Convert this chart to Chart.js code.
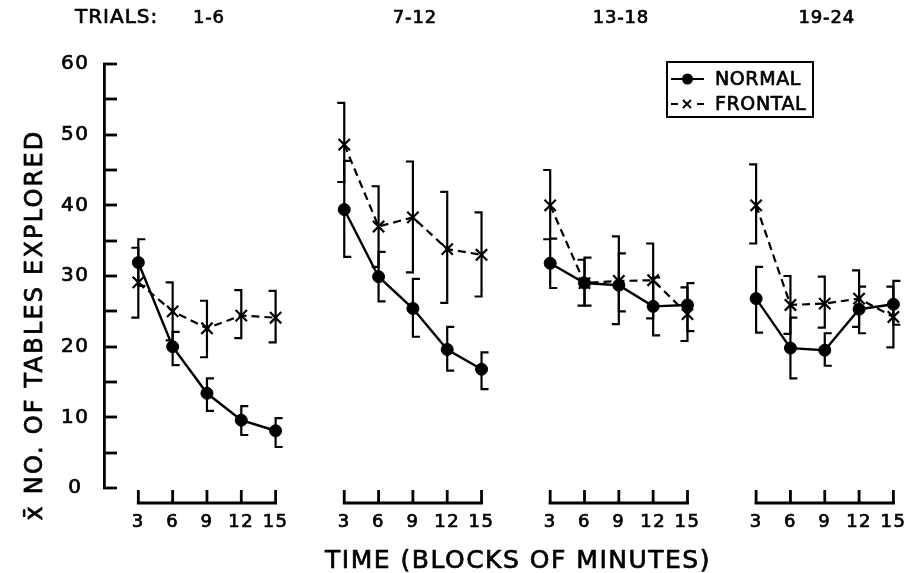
<!DOCTYPE html>
<html><head><meta charset="utf-8">
<script src="https://cdn.jsdelivr.net/npm/chart.js@4/dist/chart.umd.min.js"></script>
<style>html,body{margin:0;padding:0;background:#fff;}#wrap{width:921px;height:573px;position:relative;}</style>
</head><body><div id="wrap"><canvas id="c" width="921" height="573"></canvas></div>
<script>
// ---------- data ----------
const trialLabels = ['1-6', '7-12', '13-18', '19-24'];
const minutes = [3, 6, 9, 12, 15];
const yTickLabels = [0, 10, 20, 30, 40, 50, 60];

const normalMean  = [31.9, 20.0, 13.4,  9.6,  8.1,   39.4, 29.9, 25.4, 19.6, 16.8,   31.8, 29.0, 28.7, 25.7, 25.9,   26.8, 19.8, 19.5, 25.3, 26.0];
const normalLow   = [28.6, 17.4, 10.9,  7.5,  5.8,   32.7, 26.4, 21.4, 16.6, 14.0,   28.3, 25.8, 25.0, 21.6, 22.2,   22.0, 15.5, 17.3, 21.9, 23.1];
const normalHigh  = [35.2, 22.1, 15.5, 11.6,  9.9,   46.3, 33.4, 29.6, 22.8, 19.2,   35.3, 32.6, 33.2, 29.8, 29.0,   31.3, 24.1, 21.9, 28.5, 29.3];

const frontalMean = [29.1, 25.0, 22.6, 24.4, 24.1,   48.6, 37.0, 38.3, 33.8, 33.0,   40.0, 29.0, 29.3, 29.4, 24.6,   40.0, 25.9, 26.1, 26.8, 24.2];
const frontalLow  = [24.1, 20.9, 18.5, 21.2, 20.6,   43.3, 31.3, 30.5, 26.2, 27.1,   35.2, 25.8, 23.2, 24.0, 20.8,   34.6, 21.8, 22.7, 22.8, 19.9];
const frontalHigh = [34.0, 29.1, 26.5, 28.0, 27.9,   54.5, 42.7, 46.2, 41.9, 39.0,   45.0, 32.3, 35.6, 34.6, 28.4,   45.8, 30.0, 29.9, 30.8, 28.5];

const xTitle = 'TIME (BLOCKS OF MINUTES)';
const yTitle = 'x\u0304 NO. OF TABLES EXPLORED';

// ---------- layout constants ----------
const PANEL_SPAN = 18;   // x-units between panel starts
const FONT = '"DejaVu Sans", sans-serif';
const STROKE = 0.7;

function xVal(p, i) { return p * PANEL_SPAN + minutes[i]; }

function buildPoints(means) {
  const pts = [];
  trialLabels.forEach((t, p) => {
    minutes.forEach((m, i) => pts.push({ x: xVal(p, i), y: means[p * minutes.length + i] }));
    if (p < trialLabels.length - 1) pts.push({ x: p * PANEL_SPAN + 16.5, y: null });
  });
  return pts;
}

const tickPositions = [];
trialLabels.forEach((t, p) => minutes.forEach((m, i) => tickPositions.push(xVal(p, i))));

function spaced(ctx, px) { try { ctx.letterSpacing = px + 'px'; } catch (e) {} }
function text(ctx, s, x, y) {
  ctx.fillText(s, x, y);
  ctx.save();
  ctx.lineWidth = STROKE;
  ctx.lineJoin = 'round';
  ctx.strokeText(s, x, y);
  ctx.restore();
}

const decor = {
  id: 'decor',
  beforeDraw(chart) { spaced(chart.ctx, 1.5); },
  beforeDatasetsDraw(chart) {
    const { ctx, scales: { x, y } } = chart;
    ctx.save();
    ctx.strokeStyle = '#000';
    ctx.lineWidth = 2.2;
    ctx.lineCap = 'butt';
    const serif = 7;
    function bars(lo, hi, dir) {
      trialLabels.forEach((t, p) => minutes.forEach((m, i) => {
        const k = p * minutes.length + i;
        const px = x.getPixelForValue(xVal(p, i));
        const y1 = y.getPixelForValue(hi[k]);
        const y2 = y.getPixelForValue(lo[k]);
        ctx.beginPath();
        ctx.moveTo(px + dir * serif, y1);
        ctx.lineTo(px, y1);
        ctx.lineTo(px, y2);
        ctx.lineTo(px + dir * serif, y2);
        ctx.stroke();
      }));
    }
    bars(normalLow, normalHigh, 1);
    bars(frontalLow, frontalHigh, -1);
    ctx.restore();
  },
  afterDraw(chart) {
    const { ctx, chartArea, scales: { x, y } } = chart;
    ctx.save();
    ctx.strokeStyle = '#000';
    ctx.fillStyle = '#000';
    ctx.lineWidth = 2.8;
    ctx.lineCap = 'butt';
    // inward y tick marks every 5
    for (let v = 0; v <= 60; v += 5) {
      const py = Math.round(y.getPixelForValue(v));
      ctx.beginPath();
      ctx.moveTo(chartArea.left - 1, py);
      ctx.lineTo(chartArea.left + 13, py);
      ctx.stroke();
    }
    // x axis segments per panel
    const baseY = chartArea.bottom + 15;
    trialLabels.forEach((t, p) => {
      const a = x.getPixelForValue(xVal(p, 0));
      const b = x.getPixelForValue(xVal(p, minutes.length - 1));
      ctx.beginPath();
      ctx.moveTo(a - 1.4, baseY);
      ctx.lineTo(b + 1.4, baseY);
      ctx.stroke();
      minutes.forEach((m, i) => {
        const px = x.getPixelForValue(xVal(p, i));
        ctx.beginPath();
        ctx.moveTo(px, baseY + 1);
        ctx.lineTo(px, baseY - 13);
        ctx.stroke();
      });
    });
    // top labels
    ctx.textBaseline = 'middle';
    ctx.textAlign = 'left';
    ctx.font = '20px ' + FONT;
    spaced(ctx, 1);
    text(ctx, 'TRIALS:', 75, 18);
    ctx.textAlign = 'center';
    ctx.font = '18px ' + FONT;
    spaced(ctx, 0.8);
    trialLabels.forEach((t, p) => {
      const cx = x.getPixelForValue(p * PANEL_SPAN + 9);
      text(ctx, t, cx + 2, 18);
    });
    // x title
    ctx.font = '25px ' + FONT;
    spaced(ctx, 1.5);
    ctx.textAlign = 'center';
    text(ctx, xTitle, 518, 561);
    // y title
    ctx.save();
    ctx.translate(36, 325);
    ctx.rotate(-Math.PI / 2);
    ctx.font = '24px ' + FONT;
    spaced(ctx, 2.2);
    ctx.textAlign = 'center';
    ctx.textBaseline = 'middle';
    text(ctx, yTitle, 0, 0);
    ctx.restore();
    // legend box
    const lx = 667, ly = 62, lw = 146, lh = 55;
    ctx.lineWidth = 2;
    ctx.strokeRect(lx, ly, lw, lh);
    const r1 = 79, r2 = 104;
    ctx.beginPath(); ctx.moveTo(671, r1); ctx.lineTo(704, r1); ctx.stroke();
    ctx.beginPath(); ctx.arc(687.5, r1, 5.5, 0, Math.PI * 2); ctx.fill();
    ctx.beginPath(); ctx.moveTo(671, r2); ctx.lineTo(678, r2); ctx.moveTo(697, r2); ctx.lineTo(704, r2); ctx.stroke();
    ctx.beginPath();
    ctx.moveTo(683, r2 - 4); ctx.lineTo(691, r2 + 4);
    ctx.moveTo(691, r2 - 4); ctx.lineTo(683, r2 + 4);
    ctx.stroke();
    ctx.font = '19px ' + FONT;
    spaced(ctx, 0.6);
    ctx.textAlign = 'left';
    ctx.textBaseline = 'middle';
    text(ctx, 'NORMAL', 715, r1 + 1);
    text(ctx, 'FRONTAL', 715, r2 + 1);
    ctx.restore();
  }
};

new Chart(document.getElementById('c'), {
  type: 'line',
  data: {
    datasets: [
      {
        label: 'NORMAL',
        data: buildPoints(normalMean),
        borderColor: '#000',
        borderWidth: 2.4,
        pointStyle: 'circle',
        pointRadius: 6,
        pointBackgroundColor: '#000',
        pointBorderColor: '#000',
        pointBorderWidth: 1,
        spanGaps: false,
        tension: 0,
        clip: false
      },
      {
        label: 'FRONTAL',
        data: buildPoints(frontalMean),
        borderColor: '#000',
        borderWidth: 2.2,
        borderDash: [8, 5],
        pointStyle: 'crossRot',
        pointRadius: 8,
        pointBorderColor: '#000',
        pointBorderWidth: 2.2,
        spanGaps: false,
        tension: 0,
        clip: false
      }
    ]
  },
  options: {
    responsive: false,
    animation: false,
    devicePixelRatio: 1,
    layout: { padding: { top: 64, left: 0, right: 1, bottom: 0 } },
    plugins: { legend: { display: false }, tooltip: { enabled: false } },
    scales: {
      x: {
        type: 'linear',
        min: 0,
        max: 70,
        grid: { display: false },
        border: { display: false },
        afterBuildTicks: s => { s.ticks = tickPositions.map(v => ({ value: v })); },
        afterFit: s => { s.height = 85; },
        ticks: {
          autoSkip: false,
          maxRotation: 0,
          padding: 16,
          color: '#000',
          textStrokeColor: '#000',
          textStrokeWidth: STROKE,
          font: { family: FONT, size: 18 },
          callback: v => String(minutes[tickPositions.indexOf(v) % minutes.length])
        }
      },
      y: {
        min: 0,
        max: 60,
        grid: { display: false },
        border: { display: true, color: '#000', width: 2.8 },
        afterFit: s => { s.width = 104; },
        ticks: {
          stepSize: 5,
          padding: 8,
          crossAlign: 'center',
          color: '#000',
          textStrokeColor: '#000',
          textStrokeWidth: STROKE,
          font: { family: FONT, size: 20 },
          callback: v => (yTickLabels.includes(v) ? String(v) : '')
        }
      }
    }
  },
  plugins: [decor]
});
</script>
</body></html>
